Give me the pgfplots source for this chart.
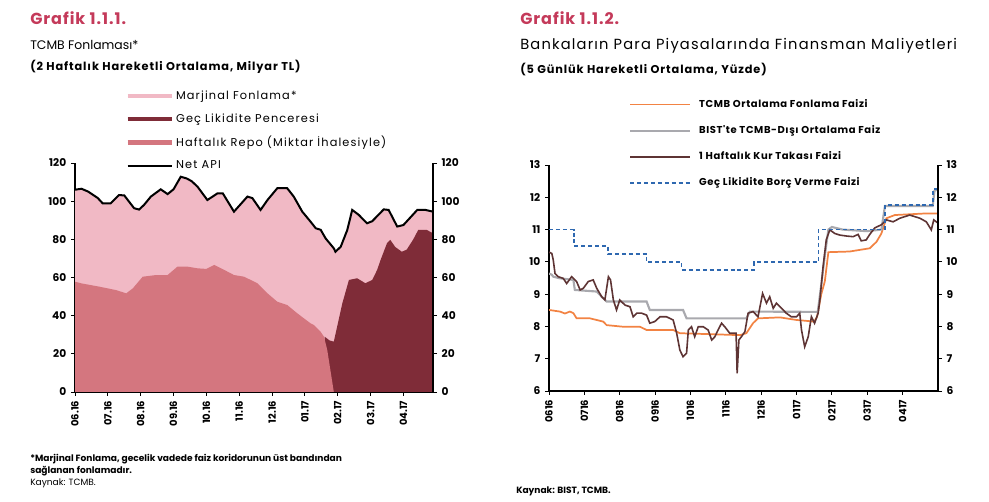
\documentclass[border=0pt]{standalone}
\usepackage{fontspec}
\setmainfont{Poppins}
\newfontfamily\lsA[LetterSpace=6]{Poppins}
\newfontfamily\lsB[LetterSpace=8]{Poppins}
\newfontfamily\lsC[LetterSpace=10]{Poppins}
\usepackage{pgfplots}
\pgfplotsset{compat=1.18}

\definecolor{titlered}{HTML}{C43A5A}
\definecolor{marj}{HTML}{F1B9C5}
\definecolor{gec}{HTML}{7F2C38}
\definecolor{repo}{HTML}{D4767F}
\definecolor{tcmb}{HTML}{F28343}
\definecolor{bist}{HTML}{A9A9AE}
\definecolor{kur}{HTML}{5E3434}
\definecolor{glbv}{HTML}{2E68B0}

\pgfplotsset{
  panel/.style={
    scale only axis, anchor=south west,
    axis x line*=bottom, axis y line*=left,
    axis line style={-, line width=0.9pt, black},
    tick style={black, line width=0.7pt},
    tick align=outside, major tick length=3pt,
    xtick={0,...,10},
    xticklabel style={rotate=90, anchor=east, font=\fontsize{7.5}{8}\selectfont\bfseries},
    yticklabel style={font=\fontsize{8}{9}\selectfont\bfseries},
    /pgf/number format/assume math mode=true,
    legend cell align=left,
  },
  rightside/.style={
    scale only axis, anchor=south west,
    axis x line=none, axis y line*=right,
    axis line style={-, line width=0.9pt, black},
    tick style={black, line width=0.7pt},
    tick align=outside, major tick length=3pt,
    yticklabel style={font=\fontsize{8}{9}\selectfont\bfseries},
    /pgf/number format/assume math mode=true,
  },
}

\begin{document}
\begin{tikzpicture}
\path[use as bounding box] (0,0) rectangle (741.75pt,376.5pt);

% ---------------- Grafik 1.1.1 ----------------
\begin{axis}[panel,
  at={(56.25pt,82.5pt)}, width=268.5pt, height=171.75pt,
  xmin=0, xmax=10.9, ymin=0, ymax=120, ytick={0,20,...,120},
  xticklabels={06.16,07.16,08.16,09.16,10.16,11.16,12.16,01.17,02.17,03.17,04.17},
  legend style={at={(0.14,1.325)}, anchor=north west, draw=none, fill=none,
    font=\lsC\fontsize{8.5}{9}\selectfont, inner sep=0pt, row sep=6.1pt,
    nodes={inner sep=1.5pt}},
]
% Marjinal Fonlama (filled up to Net API)
\addplot[fill=marj, draw=none,
  legend image code/.code={\draw[line width=3.5pt, marj] (0pt,0pt) -- (33pt,0pt);}]
  coordinates {(0,106) (0.2,106.5) (0.4,105) (0.69,101.7) (0.84,98.9) (1.09,98.9)
  (1.34,103.2) (1.5,103) (1.8,96.3) (1.95,95.6) (2.1,98) (2.31,102.4) (2.61,106.2)
  (2.82,103.7) (3.0,106.2) (3.22,112.8) (3.4,111.9) (3.55,110.5) (3.73,107.6)
  (4.03,100.6) (4.34,104.1) (4.5,104.1) (4.84,94.5) (5.25,102.4) (5.4,101.6)
  (5.65,95.4) (5.86,100.6) (6.16,106.8) (6.46,106.8) (6.66,102.4) (6.92,94.5)
  (7.17,89.3) (7.33,85.8) (7.48,85.0) (7.63,80.5) (7.88,75.3) (7.93,73.5) (8.09,76.1)
  (8.29,84.9) (8.44,95.4) (8.64,92.8) (8.89,88.4) (9.05,89.5) (9.4,95.7) (9.55,95.4)
  (9.81,86.7) (10.0,87.5) (10.42,95.4) (10.67,95.4) (10.9,94.5)} \closedcycle;
\addlegendentry{Marjinal Fonlama*}
% Gec Likidite Penceresi
\addplot[fill=gec, draw=none,
  legend image code/.code={\draw[line width=3.5pt, gec] (0pt,0pt) -- (33pt,0pt);}]
  coordinates {(7.6,29) (7.75,27) (7.88,26.4) (8.14,46.5) (8.34,58.7) (8.59,59.6)
  (8.84,57) (9.05,58.7) (9.2,64) (9.3,69) (9.5,78) (9.6,79.7) (9.75,76) (9.95,73.5)
  (10.1,74.6) (10.3,80) (10.45,84.9) (10.7,85) (10.9,83.2)} \closedcycle;
\addlegendentry{Geç Likidite Penceresi}
% Haftalik Repo
\addplot[fill=repo, draw=none,
  legend image code/.code={\draw[line width=3.5pt, repo] (0pt,0pt) -- (33pt,0pt);}]
  coordinates {(0,57.8) (0.2,56.9) (0.74,55.2) (1.25,53.4) (1.56,51.7) (1.76,54.3)
  (2.06,60.4) (2.47,61.3) (2.82,61.3) (3.12,65.7) (3.42,65.7) (3.73,64.8) (4.0,64.5)
  (4.24,66.6) (4.54,64.0) (4.84,61.3) (5.15,60.4) (5.55,57.0) (5.86,51.7) (6.16,47.3)
  (6.46,45.6) (6.77,41.2) (7.17,36.0) (7.27,35.1) (7.48,31.5) (7.58,29) (7.68,22)
  (7.88,0)} \closedcycle;
\addlegendentry{Haftalık Repo (Miktar İhalesiyle)}
% Net API
\addplot[black, line width=1.5pt,
  legend image code/.code={\draw[line width=1.3pt, black] (0pt,0pt) -- (33pt,0pt);}]
  coordinates {(0,106) (0.2,106.5) (0.4,105) (0.69,101.7) (0.84,98.9) (1.09,98.9)
  (1.34,103.2) (1.5,103) (1.8,96.3) (1.95,95.6) (2.1,98) (2.31,102.4) (2.61,106.2)
  (2.82,103.7) (3.0,106.2) (3.22,112.8) (3.4,111.9) (3.55,110.5) (3.73,107.6)
  (4.03,100.6) (4.34,104.1) (4.5,104.1) (4.84,94.5) (5.25,102.4) (5.4,101.6)
  (5.65,95.4) (5.86,100.6) (6.16,106.8) (6.46,106.8) (6.66,102.4) (6.92,94.5)
  (7.17,89.3) (7.33,85.8) (7.48,85.0) (7.63,80.5) (7.88,75.3) (7.93,73.5) (8.09,76.1)
  (8.29,84.9) (8.44,95.4) (8.64,92.8) (8.89,88.4) (9.05,89.5) (9.4,95.7) (9.55,95.4)
  (9.81,86.7) (10.0,87.5) (10.42,95.4) (10.67,95.4) (10.9,94.5)};
\addlegendentry{Net API}
\end{axis}
\begin{axis}[rightside,
  at={(56.25pt,82.5pt)}, width=268.5pt, height=171.75pt,
  xmin=0, xmax=10.9, ymin=0, ymax=120, ytick={0,20,...,120}]
\end{axis}

% ---------------- Grafik 1.1.2 ----------------
\begin{axis}[panel,
  at={(411.75pt,83.25pt)}, width=291.75pt, height=169.5pt,
  xmin=0, xmax=11, ymin=6, ymax=13, ytick={6,...,13},
  xticklabels={0616,0716,0816,0916,1016,1116,1216,0117,0217,0317,0417},
  legend style={at={(0.205,1.30)}, anchor=north west, draw=none, fill=none,
    font=\lsA\fontsize{7.5}{8.5}\selectfont\bfseries, inner sep=0pt, row sep=9.1pt,
    nodes={inner sep=1.5pt},
    /tikz/every odd column/.append style={column sep=4.5pt}},
]
\addplot[tcmb, line width=1.3pt,
  legend image code/.code={\draw[line width=1.3pt, tcmb] (0pt,0pt) -- (45pt,0pt);}]
  coordinates {(0,8.51) (0.31,8.46) (0.45,8.40) (0.59,8.46) (0.69,8.41) (0.78,8.25)
  (1.16,8.25) (1.53,8.15) (1.63,8.04) (2.10,7.99) (2.57,7.99) (2.76,7.89) (3.51,7.89)
  (3.70,7.79) (5.40,7.73) (5.58,7.79) (5.77,8.10) (5.91,8.25) (6.53,8.28) (7.0,8.2)
  (7.5,8.15) (7.58,8.3) (7.7,9.0) (7.8,9.4) (7.9,10.3) (8.5,10.32) (9.07,10.42)
  (9.26,10.62) (9.4,10.88) (9.54,11.35) (9.78,11.45) (10.67,11.5) (11,11.5)};
\addlegendentry{TCMB Ortalama Fonlama Faizi}
\addplot[bist, line width=1.6pt,
  legend image code/.code={\draw[line width=1.6pt, bist] (0pt,0pt) -- (45pt,0pt);}]
  coordinates {(0,9.64) (0.08,9.6) (0.12,9.54) (0.31,9.49) (0.69,9.44) (0.73,9.13)
  (1.35,9.08) (1.49,8.92) (1.63,8.77) (2.76,8.77) (2.85,8.51) (3.79,8.51) (3.89,8.25)
  (5.58,8.25) (5.68,8.46) (7.6,8.45) (7.7,9.3) (7.8,10.2) (7.9,11.0) (8.0,11.08)
  (8.3,11.0) (9.0,10.95) (9.4,11.0) (9.5,11.73) (10.85,11.73) (10.9,12.2) (11,12.25)};
\addlegendentry{BIST'te TCMB-Dışı Ortalama Faiz}
\addplot[kur, line width=1.2pt,
  legend image code/.code={\draw[line width=1.2pt, kur] (0pt,0pt) -- (45pt,0pt);}]
  coordinates {(0.0,10.3) (0.08,10.26) (0.12,10.06) (0.17,9.64) (0.26,9.54) (0.40,9.49)
  (0.50,9.33) (0.64,9.54) (0.78,9.39) (0.88,9.13) (0.97,9.18) (1.11,9.39) (1.25,9.44)
  (1.35,9.18) (1.49,8.92) (1.58,8.82) (1.68,9.54) (1.74,9.44) (1.82,8.82) (1.91,8.51)
  (2.0,8.82) (2.15,8.66) (2.29,8.61) (2.38,8.30) (2.48,8.41) (2.62,8.41) (2.76,8.35)
  (2.85,8.10) (2.99,8.15) (3.14,8.30) (3.32,8.30) (3.51,8.20) (3.61,7.79) (3.70,7.27)
  (3.79,7.06) (3.89,7.17) (3.94,7.89) (4.03,7.99) (4.12,7.68) (4.22,7.99) (4.36,7.99)
  (4.50,7.89) (4.60,7.58) (4.69,7.68) (4.78,7.89) (4.88,8.10) (4.97,7.99) (5.11,7.79)
  (5.21,7.79) (5.29,7.79) (5.32,6.55) (5.37,7.58) (5.44,7.68) (5.54,7.84) (5.63,8.41)
  (5.77,8.46) (5.91,8.30) (6.04,9.02) (6.15,8.72) (6.24,8.92) (6.34,8.56) (6.43,8.72)
  (6.62,8.51) (6.71,8.41) (6.85,8.30) (7.0,8.30) (7.09,8.41) (7.14,7.89) (7.23,7.37)
  (7.33,7.68) (7.42,8.30) (7.51,8.10) (7.61,8.41) (7.66,8.82) (7.75,9.85) (7.84,10.68)
  (7.94,10.99) (8.08,10.88) (8.22,10.83) (8.41,10.80) (8.60,10.78) (8.74,10.85)
  (8.83,10.65) (8.97,10.68) (9.07,10.85) (9.21,11.05) (9.40,11.15) (9.54,11.30)
  (9.73,11.24) (9.92,11.35) (10.2,11.45) (10.49,11.35) (10.67,11.24) (10.81,10.99)
  (10.88,11.30) (11.0,11.2)};
\addlegendentry{1 Haftalık Kur Takası Faizi}
\addplot[glbv, line width=1.3pt, dash pattern=on 3pt off 2.2pt,
  legend image code/.code={\draw[line width=1.3pt, glbv, dash pattern=on 3pt off 2.2pt] (0pt,0pt) -- (45pt,0pt);}]
  coordinates {(0,11.0) (0.7,11.0) (0.7,10.5) (1.67,10.5) (1.67,10.25) (2.76,10.25)
  (2.76,10.0) (3.75,10.0) (3.75,9.75) (5.8,9.75) (5.8,10.0) (7.62,10.0) (7.62,11.0)
  (9.5,11.0) (9.5,11.75) (10.85,11.75) (10.85,12.25) (11,12.25)};
\addlegendentry{Geç Likidite Borç Verme Faizi}
\end{axis}
\begin{axis}[rightside,
  at={(411.75pt,83.25pt)}, width=291.75pt, height=169.5pt,
  xmin=0, xmax=11, ymin=6, ymax=13, ytick={6,...,13}]
\end{axis}

% ---------------- titles and notes ----------------
\begin{scope}[x=0.75pt,y=0.75pt]
\node[anchor=base west, inner sep=0, text=titlered, font=\lsA\fontsize{12}{13}\selectfont\bfseries] at (30,477) {Grafik 1.1.1.};
\node[anchor=base west, inner sep=0, font=\fontsize{9.3}{11}\selectfont] at (30,452) {TCMB Fonlaması*};
\node[anchor=base west, inner sep=0, font=\lsB\fontsize{8.5}{9}\selectfont\bfseries] at (30,431) {(2 Haftalık Hareketli Ortalama, Milyar TL)};
\node[anchor=base west, inner sep=0, text=titlered, font=\lsA\fontsize{12}{13}\selectfont\bfseries] at (520,477) {Grafik 1.1.2.};
\node[anchor=base west, inner sep=0, font=\lsB\fontsize{11}{12}\selectfont] at (520,452) {Bankaların Para Piyasalarında Finansman Maliyetleri};
\node[anchor=base west, inner sep=0, font=\lsB\fontsize{8.5}{9}\selectfont\bfseries] at (520,428) {(5 Günlük Hareketli Ortalama, Yüzde)};
\node[anchor=base west, inner sep=0, font=\fontsize{6.8}{8}\selectfont\bfseries] at (30,40) {*Marjinal Fonlama, gecelik vadede faiz koridorunun üst bandından};
\node[anchor=base west, inner sep=0, font=\fontsize{6.8}{8}\selectfont\bfseries] at (30,28) {sağlanan fonlamadır.};
\node[anchor=base west, inner sep=0, font=\fontsize{6.8}{8}\selectfont] at (30,16) {Kaynak: TCMB.};
\node[anchor=base west, inner sep=0, font=\fontsize{6.8}{8}\selectfont\bfseries] at (516,8) {Kaynak: BIST, TCMB.};
\end{scope}
\end{tikzpicture}
\end{document}
